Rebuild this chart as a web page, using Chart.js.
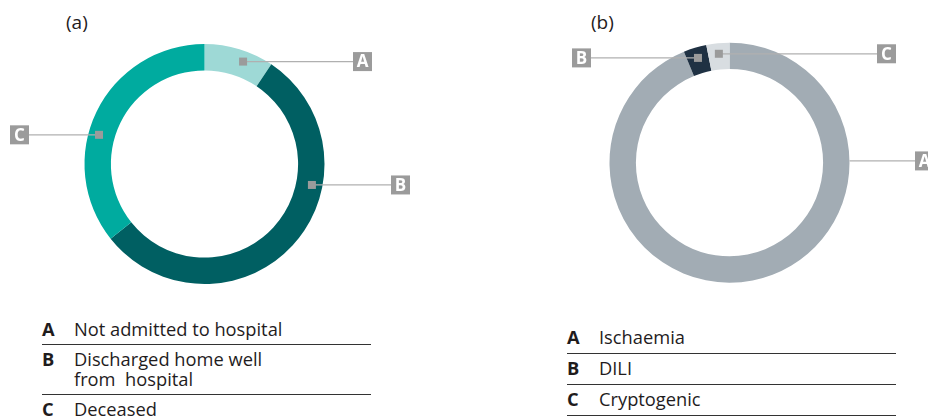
<!DOCTYPE html>
<html>
<head>
<meta charset="utf-8">
<script src="https://cdn.jsdelivr.net/npm/chart.js"></script>
<style>
  html, body { margin: 0; padding: 0; background: #fff; }
  body { width: 928px; height: 418px; position: relative; overflow: hidden; font-family: "Open Sans", sans-serif; color: #1f1c1d; }
  canvas { position: absolute; top: 0; }
  #chartA { left: 0; }
  #chartB { left: 464px; }
  .titulo { position: absolute; font-size: 19px; line-height: 22px; }
  .leyenda { position: absolute; }
  .fila { display: flex; border-bottom: 1px solid #333; padding: 4px 0 5px; font-size: 18.3px; line-height: 20px; }
  .fila b { width: 32px; flex: none; font-weight: 700; }
  .fila span { white-space: pre; }
</style>
</head>
<body>
<div class="titulo" style="left:66px; top:11px;">(a)</div>
<div class="titulo" style="left:591px; top:11px;">(b)</div>
<canvas id="chartA" width="464" height="300"></canvas>
<canvas id="chartB" width="464" height="300"></canvas>
<div class="leyenda" id="leyendaA" style="left:42px; top:315px; width:329px;"></div>
<div class="leyenda" id="leyendaB" style="left:567px; top:323px; width:329px;"></div>
<script>
// datos grafico (a)
const categoriasA = ['A', 'B', 'C'];
const etiquetasA = ['Not admitted to hospital', 'Discharged home well\nfrom  hospital', 'Deceased'];
const valoresA = [9.4, 54.9, 35.7];
const coloresA = ['#9ed9d6', '#005f62', '#00ab9f'];

// datos grafico (b)
const categoriasB = ['A', 'B', 'C'];
const etiquetasB = ['Ischaemia', 'DILI', 'Cryptogenic'];
const valoresB = [93.8, 3.1, 3.1];
const coloresB = ['#a2acb4', '#1f3143', '#d8dde1'];

// plugin para las etiquetas con cajita (A, B, C)
const callouts = {
    id: 'callouts',
    afterDatasetsDraw(chart, args, opts) {
        const ctx = chart.ctx;
        const meta = chart.getDatasetMeta(0);
        const cats = chart.data.labels;
        meta.data.forEach((arc, i) => {
            const item = opts.items[i];
            if (!item) return;
            const p = arc.getProps(['x', 'y', 'startAngle', 'endAngle', 'innerRadius', 'outerRadius'], true);
            const ang = p.startAngle + item.frac * (p.endAngle - p.startAngle);
            const r = item.marker ? p.innerRadius + 0.6 * (p.outerRadius - p.innerRadius) : p.outerRadius;
            const mx = p.x + r * Math.cos(ang);
            const my = p.y + r * Math.sin(ang);
            const size = 19;
            let bx;
            if (item.dx > 0) bx = p.x + item.dx;
            else bx = p.x + item.dx - size;
            const lineEnd = item.dx > 0 ? bx : bx + size;

            ctx.save();
            ctx.strokeStyle = '#b0b0b0';
            ctx.lineWidth = 1.3;
            ctx.beginPath();
            ctx.moveTo(mx, my);
            ctx.lineTo(lineEnd, my);
            ctx.stroke();

            if (item.marker) {
                ctx.fillStyle = '#9b9b9b';
                ctx.fillRect(mx - 4, my - 4, 8, 8);
            }
            ctx.fillStyle = '#9b9b9b';
            ctx.fillRect(bx, my - size / 2, size, size);
            ctx.fillStyle = '#fff';
            ctx.font = 'bold 17px "Open Sans", sans-serif';
            ctx.textAlign = 'center';
            ctx.textBaseline = 'middle';
            ctx.fillText(cats[i], bx + size / 2, my + 1);
            ctx.restore();
        });
    }
};

function crearDona(id, categorias, valores, colores, padding, items) {
    const ctx = document.getElementById(id).getContext('2d');
    return new Chart(ctx, {
        type: 'doughnut',
        data: {
            labels: categorias,
            datasets: [{
                data: valores,
                backgroundColor: colores,
                borderWidth: 0
            }]
        },
        options: {
            responsive: false,
            animation: false,
            cutout: '78%',
            layout: { padding: padding },
            plugins: {
                legend: { display: false },
                tooltip: { enabled: false },
                callouts: { items: items }
            }
        },
        plugins: [callouts]
    });
}

crearDona('chartA', categoriasA, valoresA, coloresA,
    { left: 84.5, right: 139.5, top: 44, bottom: 16 },
    [
        { frac: 0.61, dx: 148.5, marker: true },
        { frac: 0.34, dx: 186.5, marker: true },
        { frac: 0.42, dx: -175.5, marker: true }
    ]);

crearDona('chartB', categoriasB, valoresB, coloresB,
    { left: 145.5, right: 78.5, top: 42.7, bottom: 17.3 },
    [
        { frac: 0.264, dx: 185.5, marker: false },
        { frac: 0.5, dx: -138.5, marker: true },
        { frac: 0.5, dx: 147.5, marker: true }
    ]);

// tablas de leyenda
function crearLeyenda(id, categorias, etiquetas, paddings) {
    const cont = document.getElementById(id);
    categorias.forEach((c, i) => {
        const fila = document.createElement('div');
        fila.className = 'fila';
        if (paddings) fila.style.padding = paddings;
        const b = document.createElement('b');
        b.textContent = c;
        const s = document.createElement('span');
        s.textContent = etiquetas[i];
        fila.appendChild(b);
        fila.appendChild(s);
        cont.appendChild(fila);
    });
}
crearLeyenda('leyendaA', categoriasA, etiquetasA);
crearLeyenda('leyendaB', categoriasB, etiquetasB, '4px 0 6px');
</script>
</body>
</html>
